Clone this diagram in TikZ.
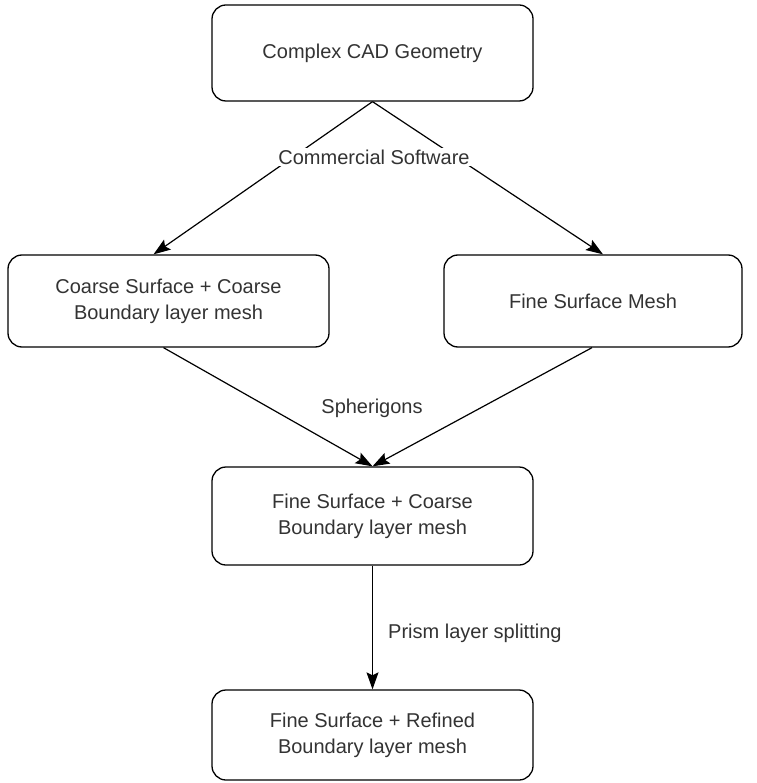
\documentclass[tikz,border=0pt]{standalone}
\usepackage{fontspec}
\setmainfont{Liberation Sans}
\usetikzlibrary{arrows.meta}
\tikzset{
  stage/.style={draw, line width=1.3pt, rounded corners=14pt, align=center,
    font=\fontsize{20}{26}\selectfont, text=black!80},
  flow/.style={line width=1.2pt, -{Stealth[length=17pt,width=12pt,inset=3pt]}},
  note/.style={fill=white, inner sep=2pt, font=\fontsize{20}{26}\selectfont, text=black!80}
}
\begin{document}
\begin{tikzpicture}[x=1pt, y=-1pt]
    % page frame
    \useasboundingbox (0,0) rectangle (756,783);
    % stages
    \node[stage, minimum width=321pt, minimum height=96pt] (cad) at (372.5,53) {Complex CAD Geometry};
    \node[stage, minimum width=321pt, minimum height=92pt] (coarse) at (168.5,301) {Coarse Surface + Coarse\\Boundary layer mesh};
    \node[stage, minimum width=298pt, minimum height=92pt] (fine) at (593,301) {Fine Surface Mesh};
    \node[stage, minimum width=321pt, minimum height=98pt] (mixed) at (372.5,516) {Fine Surface + Coarse\\Boundary layer mesh};
    \node[stage, minimum width=321pt, minimum height=90pt] (refined) at (372.5,735) {Fine Surface + Refined\\Boundary layer mesh};
    % connectors
    \draw[flow] (cad.south) -- ([xshift=-15pt]coarse.north);
    \draw[flow] (cad.south) -- ([xshift=10pt]fine.north);
    \draw[flow] ([xshift=-5pt]coarse.south) -- (mixed.north);
    \draw[flow] ([xshift=-1pt]fine.south) -- (mixed.north);
    \draw[flow] (mixed.south) -- (refined.north);
    % labels
    \node[note] (soft) at (374,157) {Commercial Software};
    \node[note] (sph) at (372,408) {Spherigons};
    \node[note, anchor=west] (split) at (386,633) {Prism layer splitting};
\end{tikzpicture}
\end{document}
